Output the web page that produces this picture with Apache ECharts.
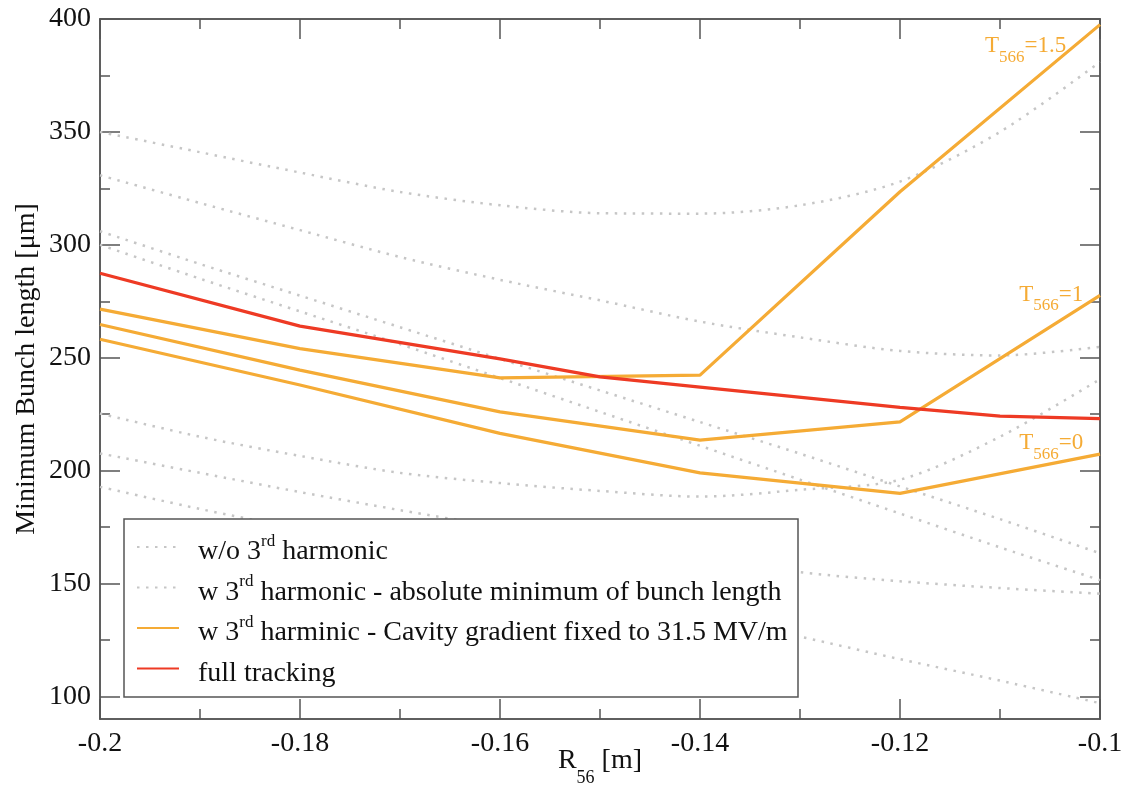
<!DOCTYPE html>
<html><head><meta charset="utf-8">
<script src="https://cdn.jsdelivr.net/npm/echarts@6/dist/echarts.min.js"></script>
<style>html,body{margin:0;padding:0;background:#fff}#c{width:1125px;height:788px}</style>
</head><body><div id="c"></div>
<script>
// ---- data ----
const xDense = [-0.2,-0.19,-0.18,-0.17,-0.16,-0.15,-0.14,-0.13,-0.12,-0.11,-0.1];
// w/o 3rd harmonic (gray dotted)
const woA = [350, 341, 332, 323.4, 317.5, 314, 313.8, 317.5, 328, 350, 381];
const woB = [330.8, 318.5, 306.5, 294.6, 284.5, 275.4, 266, 259, 253, 251, 254.8];
const woC = [306, 291.5, 277.5, 263.5, 249.5, 235.5, 221.5, 207.5, 193, 178.5, 163.4];
const woD = [300, 285, 270.5, 256, 241, 226, 211, 196, 181, 166, 151.5];
// w 3rd harmonic - absolute minimum (gray dotted)
const wE = [225.3, 215, 206.5, 199, 194.5, 191, 188.5, 191.5, 196, 215, 240.5];
const wF = [207.6, 199, 190.5, 182.5, 175, 168, 161, 155, 151, 148, 145.5];
const wG = [192.8, 183, 174, 164.5, 155, 145.5, 136, 126.5, 116.5, 107, 97];
// w 3rd harmonic - cavity gradient fixed (orange)
const xCav = [-0.2,-0.18,-0.16,-0.14,-0.12,-0.1];
const cavT15 = [271.5, 254, 241.1, 242.3, 323.5, 397.5];
const cavT1  = [264.7, 244.5, 226, 213.5, 221.6, 277.6];
const cavT0  = [258.2, 237.9, 216.5, 199, 189.9, 207.3];
// full tracking (red)
const xTrack = [-0.2,-0.18,-0.16,-0.15,-0.14,-0.12,-0.11,-0.1];
const track = [287.4, 264, 249.5, 241.5, 237, 228, 224.1, 223];
// ticks
const xMajor = [-0.2,-0.18,-0.16,-0.14,-0.12,-0.1];
const xMinor = [-0.19,-0.17,-0.15,-0.13,-0.11];
const yMajor = [100,150,200,250,300,350,400];
const yMinor = [125,175,225,275,325,375];
// curve label anchors (data space, top-left of text)
const curveLabels = [
  {text:'=1.5', at:[-0.1115, 393.1]},
  {text:'=1',   at:[-0.10807, 283.0]},
  {text:'=0',   at:[-0.10807, 217.3]}
];

// ---- style ----
const FONT = 'Liberation Serif';
const ORANGE = '#F5AB35', RED = '#EE3A24', GRAY = '#C6C6C6', AX = '#555555', TXT = '#111111';
const NAME_WO = 'w/o 3rd harmonic';
const NAME_W = 'w 3rd harmonic - absolute minimum of bunch length';
const NAME_CAV = 'w 3rd harminic - Cavity gradient fixed to 31.5 MV/m';
const NAME_TRK = 'full tracking';

function pairs(xs, ys){ return xs.map((x,i)=>[x, ys[i]]); }
function dotted(name, ys){
  return {type:'line', name, data:pairs(xDense, ys), smooth:0.3, symbol:'none', showSymbol:false,
    lineStyle:{color:GRAY, width:2.5, type:[2.5,6.5]}, itemStyle:{color:GRAY}, z:2, silent:true};
}
function solid(name, xs, ys, color, z){
  return {type:'line', name, data:pairs(xs, ys), symbol:'none', showSymbol:false,
    lineStyle:{color, width:3.2}, itemStyle:{color}, z, silent:true};
}
const axLine = {show:true, lineStyle:{color:AX, width:1.5}};
function xAx(pos, ticks, len, withLabels){
  const a = {type:'value', position:pos, min:-0.2, max:-0.1, axisLine:axLine, splitLine:{show:false},
    axisTick:{show:true, inside:true, length:len, customValues:ticks, lineStyle:{color:AX, width:1.5}},
    axisLabel:{show:false}};
  if (withLabels){
    a.axisLabel = {show:true, customValues:xMajor, margin:11, fontFamily:FONT, fontSize:28, color:TXT,
      formatter: v => String(parseFloat((+v).toFixed(3)))};
    a.name = '{n|R}{sub|56}{n| [m]}';
    a.nameLocation = 'middle';
    a.nameGap = 28;
    a.nameMoveOverlap = false;
    a.nameTextStyle = {fontFamily:FONT, fontSize:28, color:TXT,
      rich:{n:{fontFamily:FONT, fontSize:28, color:TXT, lineHeight:30, verticalAlign:'top'},
            sub:{fontFamily:FONT, fontSize:18, color:TXT, lineHeight:40.5, verticalAlign:'bottom'}}};
  }
  return a;
}
function yAx(pos, ticks, len, withLabels){
  const a = {type:'value', position:pos, min:90, max:400, axisLine:axLine, splitLine:{show:false},
    axisTick:{show:true, inside:true, length:len, customValues:ticks, lineStyle:{color:AX, width:1.5}},
    axisLabel:{show:false}};
  if (withLabels){
    a.axisLabel = {show:true, customValues:yMajor, margin:9, fontFamily:FONT, fontSize:28, color:TXT};
    a.name = 'Minimum Bunch length [μm]';
    a.nameLocation = 'middle';
    a.nameGap = 59;
    a.nameMoveOverlap = false;
    a.nameTextStyle = {fontFamily:FONT, fontSize:28, color:TXT};
  }
  return a;
}
function legendText(name){
  const parts = name.split('3rd');
  if (parts.length === 2) return '{n|' + parts[0] + '3}{sup|rd}{n|' + parts[1] + '}';
  return '{n|' + name + '}';
}

const chart = echarts.init(document.getElementById('c'));
chart.setOption({
  animation:false,
  backgroundColor:'#ffffff',
  grid:{left:100, right:25, top:19, bottom:69, containLabel:false, outerBoundsMode:'none'},
  xAxis:[xAx('bottom', xMajor, 20, true), xAx('bottom', xMinor, 10, false),
         xAx('top', xMajor, 20, false), xAx('top', xMinor, 10, false)],
  yAxis:[yAx('left', yMajor, 20, true), yAx('left', yMinor, 10, false),
         yAx('right', yMajor, 20, false), yAx('right', yMinor, 10, false)],
  legend:{
    orient:'vertical', left:136, top:528, padding:0, itemGap:2.5, itemWidth:42, itemHeight:14,
    selectedMode:false,
    itemStyle:{opacity:0, borderWidth:0},
    data:[NAME_WO, NAME_W, NAME_CAV, NAME_TRK],
    formatter: legendText,
    textStyle:{fontFamily:FONT, fontSize:28, color:TXT, lineHeight:38, padding:[0,0,0,14],
      rich:{n:{fontFamily:FONT, fontSize:28, color:TXT, lineHeight:38, verticalAlign:'bottom'},
            sup:{fontFamily:FONT, fontSize:17, color:TXT, verticalAlign:'top', padding:[5,0,0,0]}}},
    z:5
  },
  series:[
    dotted(NAME_WO, woA), dotted(NAME_WO, woB), dotted(NAME_WO, woC), dotted(NAME_WO, woD),
    dotted(NAME_W, wE), dotted(NAME_W, wF), dotted(NAME_W, wG),
    solid(NAME_CAV, xCav, cavT15, ORANGE, 3), solid(NAME_CAV, xCav, cavT1, ORANGE, 3), solid(NAME_CAV, xCav, cavT0, ORANGE, 3),
    solid(NAME_TRK, xTrack, track, RED, 4)
  ]
});

// legend frame and curve labels
const graphics = [{
  type:'rect', id:'legendBox', z:4,
  shape:{x:124, y:519, width:674, height:178},
  style:{fill:'#ffffff', stroke:AX, lineWidth:1.5}
}];
curveLabels.forEach((c, i) => {
  const p = chart.convertToPixel({gridIndex:0}, c.at);
  graphics.push({
    type:'text', id:'cl'+i, z:6, x:p[0], y:p[1],
    style:{text:'{t|T}{s|566}{t|' + c.text + '}', align:'left', verticalAlign:'top',
      rich:{t:{fontFamily:FONT, fontSize:23, fill:ORANGE, lineHeight:24, verticalAlign:'top'},
            s:{fontFamily:FONT, fontSize:17, fill:ORANGE, lineHeight:31, verticalAlign:'bottom'}}}
  });
});
chart.setOption({graphic:graphics});
</script>
</body></html>
